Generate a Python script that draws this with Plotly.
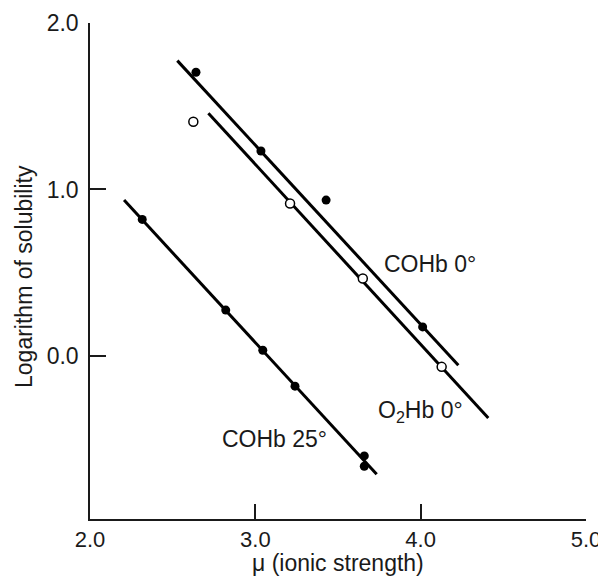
import plotly.graph_objects as go

# COHb 0° (filled points)
cohb0_x = [2.641, 3.034, 3.428, 4.012]
cohb0_y = [1.704, 1.231, 0.936, 0.174]
cohb0_line_x = [2.528, 4.228]
cohb0_line_y = [1.774, -0.056]

# O2Hb 0° (open points)
o2hb0_x = [2.625, 3.210, 3.650, 4.127]
o2hb0_y = [1.407, 0.916, 0.465, -0.066]
o2hb0_line_x = [2.716, 4.409]
o2hb0_line_y = [1.458, -0.373]

# COHb 25° (filled points)
cohb25_x = [2.316, 2.821, 3.045, 3.240, 3.659, 3.659]
cohb25_y = [0.820, 0.275, 0.034, -0.182, -0.601, -0.663]
cohb25_line_x = [2.206, 3.734]
cohb25_line_y = [0.936, -0.711]

x_ticks = [2, 3, 4, 5]
x_tick_labels = ["2.0", "3.0", "4.0", "5.0"]
y_ticks = [0, 1, 2]
y_tick_labels = ["0.0", "1.0", "2.0"]

x_title = "μ (ionic strength)"
y_title = "Logarithm of solubility"

labels = [
    dict(text="COHb 0°", x=4.057, y=0.551),
    dict(text="O<sub>2</sub>Hb 0°", x=3.996, y=-0.332),
    dict(text="COHb 25°", x=3.113, y=-0.501),
]

INK = "#1a1a1a"
FONT = "Liberation Sans"
FS = 23

fig = go.Figure()
for lx, ly in [(cohb0_line_x, cohb0_line_y), (o2hb0_line_x, o2hb0_line_y), (cohb25_line_x, cohb25_line_y)]:
    fig.add_trace(go.Scatter(x=lx, y=ly, mode="lines", line=dict(color="black", width=3),
                             showlegend=False, hoverinfo="skip"))

fig.add_trace(go.Scatter(x=cohb0_x, y=cohb0_y, mode="markers", name="COHb 0°",
                         marker=dict(symbol="circle", size=9, color="black", line=dict(width=0))))
fig.add_trace(go.Scatter(x=cohb25_x, y=cohb25_y, mode="markers", name="COHb 25°",
                         marker=dict(symbol="circle", size=9, color="black", line=dict(width=0))))
fig.add_trace(go.Scatter(x=o2hb0_x, y=o2hb0_y, mode="markers", name="O2Hb 0°",
                         marker=dict(symbol="circle", size=9, color="white",
                                     line=dict(width=1.5, color="black"))))

for lb in labels:
    fig.add_annotation(x=lb["x"], y=lb["y"], text=lb["text"], showarrow=False,
                       font=dict(family=FONT, size=FS, color=INK))

# axis titles placed precisely (plot area 496 x 496 px)
fig.add_annotation(xref="paper", yref="paper", x=0.5, y=-0.089, text=x_title,
                   showarrow=False, xanchor="center", yanchor="middle",
                   font=dict(family=FONT, size=FS, color=INK))
fig.add_annotation(xref="paper", yref="paper", x=-0.133, y=0.488, text=y_title,
                   showarrow=False, xanchor="center", yanchor="middle", textangle=-90,
                   font=dict(family=FONT, size=FS, color=INK))

# page body has an 8px default margin, so the figure is shifted 8px; compensate
fig.update_layout(
    width=598, height=569,
    margin=dict(l=82, r=20, t=15, b=58, autoexpand=False),
    paper_bgcolor="white", plot_bgcolor="white",
    showlegend=False,
    font=dict(family=FONT, size=FS, color=INK),
)
fig.update_xaxes(
    range=[2.0, 5.0], tickvals=x_ticks, ticktext=x_tick_labels,
    showline=True, linecolor=INK, linewidth=1.5, mirror=False,
    ticks="inside", ticklen=15, tickwidth=1.5, tickcolor=INK,
    showgrid=False, zeroline=False, automargin=False,
    tickfont=dict(family=FONT, size=22, color=INK),
)
fig.update_yaxes(
    range=[-0.98, 2.0], tickvals=y_ticks, ticktext=y_tick_labels,
    showline=True, linecolor=INK, linewidth=1.5, mirror=False,
    ticks="inside", ticklen=16, tickwidth=1.5, tickcolor=INK,
    showgrid=False, zeroline=False, automargin=False,
    ticklabelstandoff=5,
    tickfont=dict(family=FONT, size=23, color=INK),
)

fig.write_html("out.html")
